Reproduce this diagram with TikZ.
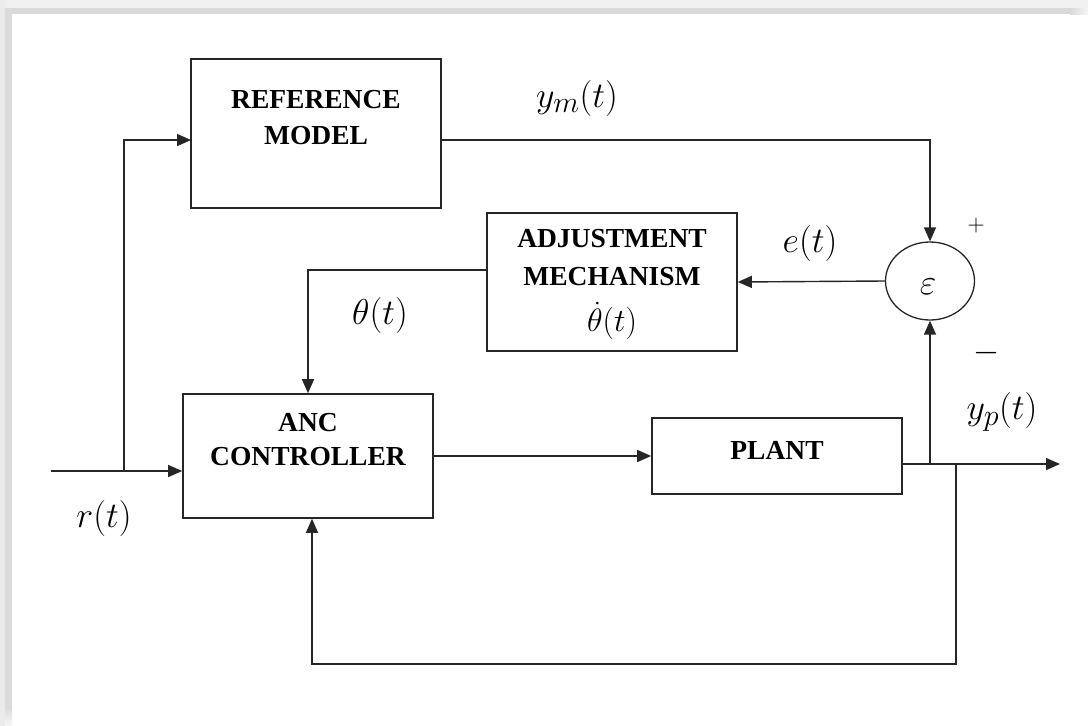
\documentclass[tikz,border=0pt]{standalone}
\usepackage{fontspec}
\setmainfont{Liberation Serif}
\usetikzlibrary{arrows.meta,shapes.geometric}

\begin{document}
\begin{tikzpicture}[x=1pt,y=-1pt,
  box/.style={draw=black!85,line width=1.6pt,minimum width=250pt,inner sep=0pt},
  boxtext/.style={font=\fontsize{27.5}{36}\selectfont\bfseries,align=center,inner sep=0pt},
  wire/.style={line width=1.4pt,draw=black!85},
  sig/.style={wire,-{Triangle[length=14pt,width=12pt]}},
  lbl/.style={font=\fontsize{24.88}{30}\selectfont,inner sep=0pt,scale=1.447},
  sgn/.style={inner sep=0pt,font=\fontsize{24.88}{30}\selectfont},
]
\useasboundingbox (0,0) rectangle (1088,726);

% soft frame along the top and left edges
\fill[gray!12] (0,0) rectangle (1088,8);
\fill[gray!30] (12,8) rectangle (1070,14);
\shade[left color=gray!30,right color=gray!8] (1070,8) rectangle (1088,14);
\fill[gray!16] (0,0) rectangle (5,726);
\fill[gray!28] (5,8) rectangle (12,708);
\shade[top color=gray!28,bottom color=gray!6] (5,708) rectangle (12,726);

% blocks
\node[box,minimum height=149pt] (refm) at (316,133.5) {};
\node[boxtext] (refmt) at (316,118) {REFERENCE\\MODEL};

\node[box,minimum height=138pt] (adj) at (612,282) {};
\node[boxtext,font=\fontsize{27.5}{38}\selectfont\bfseries] (adjt) at (612,258) {ADJUSTMENT\\MECHANISM};
\node[sgn,scale=1.3] (adjd) at (612,321) {$\dot{\theta}(t)$};

\node[box,minimum height=124pt] (anc) at (308,456) {};
\node[boxtext,font=\fontsize{27.5}{34}\selectfont\bfseries] (anct) at (308,440) {ANC\\CONTROLLER};

\node[box,minimum height=76pt] (plant) at (777,456) {};
\node[boxtext] (plantt) at (777,450) {PLANT};

% comparator
\node[draw=black!85,line width=1.3pt,ellipse,minimum width=89pt,minimum height=78pt,inner sep=0pt] (sum) at (930,281) {};
\node[lbl] (eps) at (928,287) {$\varepsilon$};
\node[sgn,scale=0.95] (plus) at (976,226) {$+$};
\node[sgn,scale=1.35] (minus) at (987,353) {$-$};

% signal points
\coordinate (rin) at (51,471);
\coordinate (rbr) at (124,471);
\coordinate (refin) at (191,140);
\coordinate (refout) at (441,140);
\coordinate (adjout) at (487,270);
\coordinate (pout) at (902,464);
\coordinate (yend) at (1060,464);
\coordinate (ybr) at (930,464);
\coordinate (fbr) at (956,464);
\coordinate (fbot) at (956,664);

% connectors
\draw[sig] (rin) -- (anc.west |- rin);
\draw[sig] (rbr) |- (refin);
\draw[sig] (refout) -| (sum.north);
\draw[sig] (sum.west) -- (adj.east);
\draw[sig] (adjout) -| (anc.north);
\draw[sig] (anc.east) -- (plant.west);
\draw[sig] (pout) -- (yend);
\draw[sig] (ybr) -- (sum.south);
\draw[sig] (fbr) -- (fbot) -| ([xshift=4pt]anc.south);

% signal labels
\node[lbl] (ym) at (577,98) {$y_m(t)$};
\node[lbl] (et) at (810,243) {$e(t)$};
\node[lbl] (th) at (380,315) {$\theta(t)$};
\node[lbl] (yp) at (1002,412) {$y_p(t)$};
\node[lbl] (rt) at (104,518) {$r(t)$};
\end{tikzpicture}
\end{document}
